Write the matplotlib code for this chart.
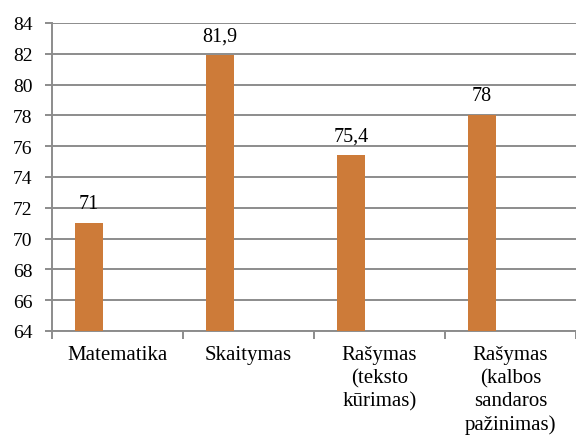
import matplotlib
matplotlib.use("Agg")
import matplotlib.pyplot as plt
import numpy as np

categories = ["Matematika", "Skaitymas", "Rašymas\n(teksto\nkūrimas)", "Rašymas\n(kalbos\nsandaros\npažinimas)"]
values = [71, 81.9, 75.4, 78]
value_labels = ["71", "81,9", "75,4", "78"]
yticks = [64, 66, 68, 70, 72, 74, 76, 78, 80, 82, 84]

plt.rcParams['font.family'] = 'serif'
plt.rcParams['font.serif'] = ['Liberation Serif', 'Times New Roman', 'DejaVu Serif']
grey = '#8C8C8C'
bar_color = '#CD7B39'

fig = plt.figure(figsize=(5.76, 4.39), dpi=100)
ax = fig.add_axes([52/576, 1-332/439, 1-52/576, (332-24)/439])

x = np.arange(len(categories))
bw = 0.214
offset = -0.5 + 0.283
ax.bar(x + offset, values, width=bw, color=bar_color, zorder=3)

for xi, v, lab in zip(x, values, value_labels):
    ax.annotate(lab, (xi + offset, v), xytext=(0, 11), textcoords='offset points',
                ha='center', va='baseline', fontsize=14.5, color='black')

ax.set_ylim(64, 84)
ax.set_xlim(-0.5, len(categories) - 0.5)
ax.set_yticks(yticks)
ax.set_yticklabels([str(t) for t in yticks], fontsize=14)
ax.yaxis.grid(True, color=grey, linewidth=1.4, zorder=0)

ax.set_xticks(x)
ax.set_xticklabels(categories, fontsize=15, linespacing=1.28)
ax.tick_params(axis='x', length=0, pad=10)
ax.set_xticks(np.arange(len(categories) + 1) - 0.5, minor=True)
ax.tick_params(axis='x', which='minor', length=6, width=1.4, color=grey, direction='out')
ax.tick_params(axis='y', length=5, width=1.4, color=grey, pad=9, direction='out')

for s in ['top', 'right']:
    ax.spines[s].set_visible(False)
for s in ['left', 'bottom']:
    ax.spines[s].set_color(grey)
    ax.spines[s].set_linewidth(1.4)

fig.savefig('out.png', dpi=100)
